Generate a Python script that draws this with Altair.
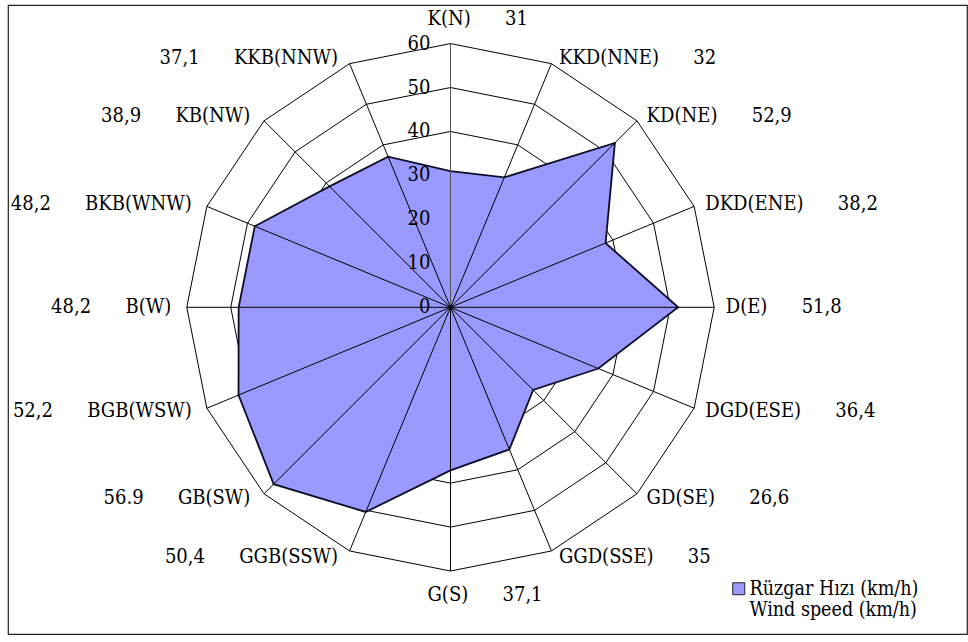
import altair as alt
import pandas as pd

# Wind-rose directions (Turkish with English in brackets) and mean wind speed, km/h
directions = ["K(N)", "KKD(NNE)", "KD(NE)", "DKD(ENE)", "D(E)", "DGD(ESE)",
              "GD(SE)", "GGD(SSE)", "G(S)", "GGB(SSW)", "GB(SW)", "BGB(WSW)",
              "B(W)", "BKB(WNW)", "KB(NW)", "KKB(NNW)"]
speeds = [31, 32, 52.9, 38.2, 51.8, 36.4, 26.6, 35, 37.1, 50.4, 56.9, 52.2,
          48.2, 48.2, 38.9, 37.1]
speed_labels = ["31", "32", "52,9", "38,2", "51,8", "36,4", "26,6", "35",
                "37,1", "50,4", "56.9", "52,2", "48,2", "48,2", "38,9", "37,1"]
ring_levels = [10, 20, 30, 40, 50, 60]
tick_levels = [0, 10, 20, 30, 40, 50, 60]
series_name = "Rüzgar Hızı (km/h)|Wind speed (km/h)"

FONT = "DejaVu Serif Condensed, DejaVu Serif"
NB = "\u00a0" * 6
n = len(directions)

# polar -> cartesian, with north at the top and angles running clockwise
ANG = "datum.idx * PI / 8"

def side_of(i):
    if i in (0, n // 2):
        return "mid"
    return "right" if i < n // 2 else "left"

rows = []
for i, (d, v, s) in enumerate(zip(directions, speeds, speed_labels)):
    side = side_of(i)
    text = s + NB + d if side == "left" else d + NB + s
    rows.append({"idx": i, "direction": d, "speed": v, "text": text,
                 "side": side, "series": series_name})
wind = pd.DataFrame(rows)

rings = pd.DataFrame([{"idx": i, "level": lv} for lv in ring_levels for i in range(n)])
spokes = pd.DataFrame({"idx": list(range(n)), "level": [max(ring_levels)] * n})
ticks = pd.DataFrame({"level": tick_levels})

xs = alt.Scale(domain=[-100.68, 117.52], nice=False, zero=False)
ys = alt.Scale(domain=[-74.33, 68.78], nice=False, zero=False)

def X(f):
    return alt.X(f, type="quantitative", scale=xs, axis=None)

def Y(f):
    return alt.Y(f, type="quantitative", scale=ys, axis=None)

ring_layer = (
    alt.Chart(rings)
    .transform_calculate(px=f"datum.level * sin({ANG})", py=f"datum.level * cos({ANG})")
    .mark_line(interpolate="linear-closed", stroke="#000", strokeWidth=1)
    .encode(x=X("px"), y=Y("py"), detail="level:O", order="idx:Q")
)

area_layer = (
    alt.Chart(wind)
    .transform_calculate(px=f"datum.speed * sin({ANG})", py=f"datum.speed * cos({ANG})")
    .mark_line(interpolate="linear-closed", stroke="#0d0d26", strokeWidth=1.8,
               fillOpacity=1)
    .encode(
        x=X("px"), y=Y("py"), order="idx:Q",
        fill=alt.Fill(
            "series:N",
            scale=alt.Scale(range=["#9999ff"]),
            legend=alt.Legend(
                orient="none", legendX=721, legendY=574, title=None,
                symbolType="square", symbolSize=144, symbolStrokeColor="#222",
                symbolStrokeWidth=1, symbolFillColor="#9999ff",
                labelFont=FONT, labelFontSize=19.5, labelColor="#000",
                labelExpr="split(datum.label, '|')", labelLimit=0,
                labelOffset=1, padding=0,
            ),
        ),
    )
)

spoke_layer = (
    alt.Chart(spokes)
    .transform_calculate(
        x0="0", y0="0",
        px=f"datum.level * sin({ANG})", py=f"datum.level * cos({ANG})",
        north="datum.idx == 0",
    )
    .mark_rule(strokeWidth=1)
    .encode(
        x=X("x0"), y=Y("y0"), x2="px:Q", y2="py:Q",
        color=alt.condition("datum.north", alt.value("#555"), alt.value("#000")),
    )
)

tick_layer = (
    alt.Chart(ticks)
    .transform_calculate(px="0")
    .mark_text(align="right", baseline="middle", dx=-20, font=FONT, fontSize=20,
               color="#000")
    .encode(x=X("px"), y=Y("level"), text="level:Q")
)

def label_layer(side, radius, align, dx):
    return (
        alt.Chart(wind)
        .transform_filter(alt.datum.side == side)
        .transform_calculate(px=f"{radius} * sin({ANG})", py=f"{radius} * cos({ANG})")
        .mark_text(align=align, baseline="middle", dx=dx, font=FONT, fontSize=20,
                   color="#000")
        .encode(x=X("px"), y=Y("py"), text="text:N")
    )

chart = (
    alt.layer(
        ring_layer,
        area_layer,
        spoke_layer,
        tick_layer,
        label_layer("right", 61.5, "left", 5),
        label_layer("left", 61.5, "right", -9),
        label_layer("mid", 65.5, "left", -23),
    )
    .properties(
        width=959, height=629,
        autosize=alt.AutoSizeParams(type="none"),
        padding={"left": 8, "top": 5, "right": 1, "bottom": 8},
        background="white",
    )
    .configure_view(stroke="#222", strokeWidth=1.2)
)

chart.save("out.html", embed_options={"renderer": "svg", "actions": False})
